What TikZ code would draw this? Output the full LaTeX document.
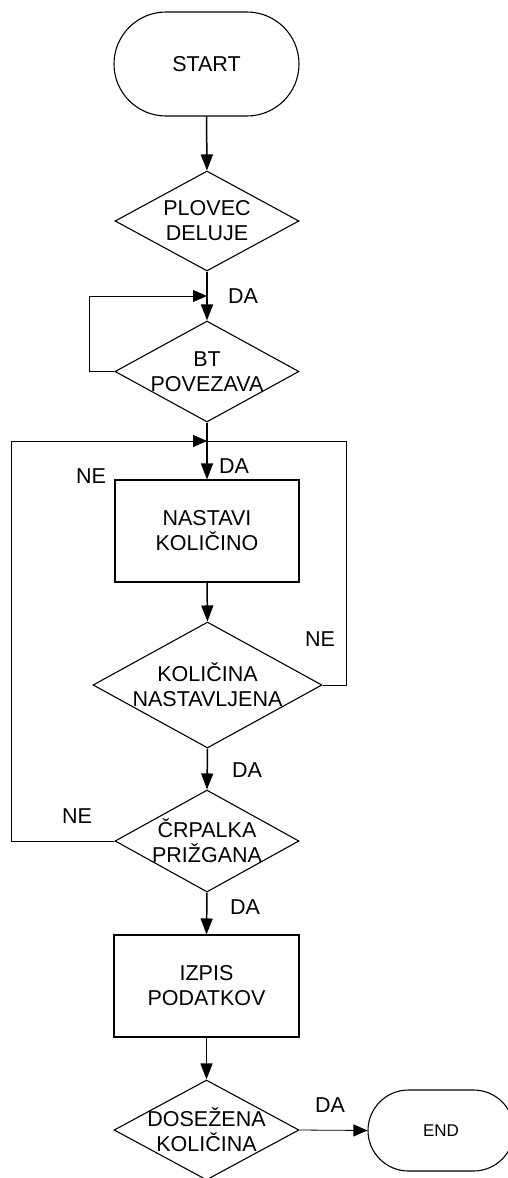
\documentclass[tikz,border=0pt]{standalone}
\usepackage{fontspec}
\setmainfont{Liberation Sans}
\usetikzlibrary{shapes.geometric,arrows.meta}

\begin{document}
\begin{tikzpicture}[x=1pt,y=-1pt,
  txt/.style={font=\fontsize{21.5}{25}\selectfont, align=center},
  term/.style={draw, line width=1.1pt, rectangle, rounded corners=#1, inner sep=0pt},
  procbox/.style={draw, line width=1.1pt, rectangle, minimum width=184pt, minimum height=102pt, inner sep=0pt, txt},
  decision/.style={draw, line width=1.1pt, diamond, inner sep=0pt, minimum width=184pt, minimum height=#1},
  flow/.style={line width=1.5pt, -{Triangle[length=16pt,width=12pt]}},
  loopline/.style={line width=0.8pt},
  loopin/.style={line width=0.8pt, -{Triangle[length=14pt,width=12pt]}},
  tag/.style={font=\fontsize{21.5}{25}\selectfont, inner sep=0pt}
]
\useasboundingbox (0,0) rectangle (507,1178);

% terminals
\node[term=52pt, minimum width=185pt, minimum height=104pt, txt] (start) at (206.5,64) {START};
\node[term=40.5pt, minimum width=146pt, minimum height=81pt, font=\fontsize{17}{20}\selectfont] (end) at (441,1130.5) {END};

% decisions
\node[decision=100pt, label={[txt]center:PLOVEC\\DELUJE}] (plovec) at (207,221) {};
\node[decision=101pt, label={[txt]center:BT\\POVEZAVA}] (bt) at (207,371.5) {};
\node[decision=126pt, minimum width=229pt, label={[txt]center:KOLIČINA\\NASTAVLJENA}] (kol) at (207.5,685) {};
\node[decision=102pt, label={[txt]center:ČRPALKA\\PRIŽGANA}] (crp) at (207,841) {};
\node[decision=100pt, minimum width=185pt, label={[txt]center:DOSEŽENA\\KOLIČINA}] (dos) at (206.5,1130) {};

% processes
\node[procbox] (nast) at (207,531) {NASTAVI\\KOLIČINO};
\node[procbox, minimum width=185pt] (izpis) at (206.5,986) {IZPIS\\PODATKOV};

% junction points of the loops
\coordinate (j1) at (207,296);
\coordinate (j2) at (207,441);
\coordinate (l1) at (89,371.5);
\coordinate (l1t) at (89,296);
\coordinate (l2) at (11,841);
\coordinate (l2t) at (11,441);
\coordinate (r1) at (346,685);
\coordinate (r1t) at (346,441);

% main flow
\draw[flow] (start.south) -- (plovec.north);
\draw[flow] (plovec.south) -- (bt.north);
\draw[flow] (bt.south) -- (nast.north);
\draw[flow] (nast.south) -- (kol.north);
\draw[flow] (kol.south) -- (crp.north);
\draw[flow] (crp.south) -- (izpis.north);
\draw[flow] (izpis.south) -- (dos.north);
\draw[loopin] (dos.east) -- (end.west);

% loops back
\draw[loopin] (bt.west) -- (l1) -- (l1t) -- (j1);
\draw[loopin] (crp.west) -- (l2) -- (l2t) -- (j2);
\draw[loopline] (kol.east) -- (r1) -- (r1t) -- (j2);

% branch labels
\node[tag] (da1) at (243,296) {DA};
\node[tag] (da2) at (234,466) {DA};
\node[tag] (ne1) at (91,476) {NE};
\node[tag] (ne2) at (320,639) {NE};
\node[tag] (da3) at (247,770) {DA};
\node[tag] (ne3) at (77,816) {NE};
\node[tag] (da4) at (245,907) {DA};
\node[tag] (da5) at (330,1105) {DA};
\end{tikzpicture}
\end{document}
